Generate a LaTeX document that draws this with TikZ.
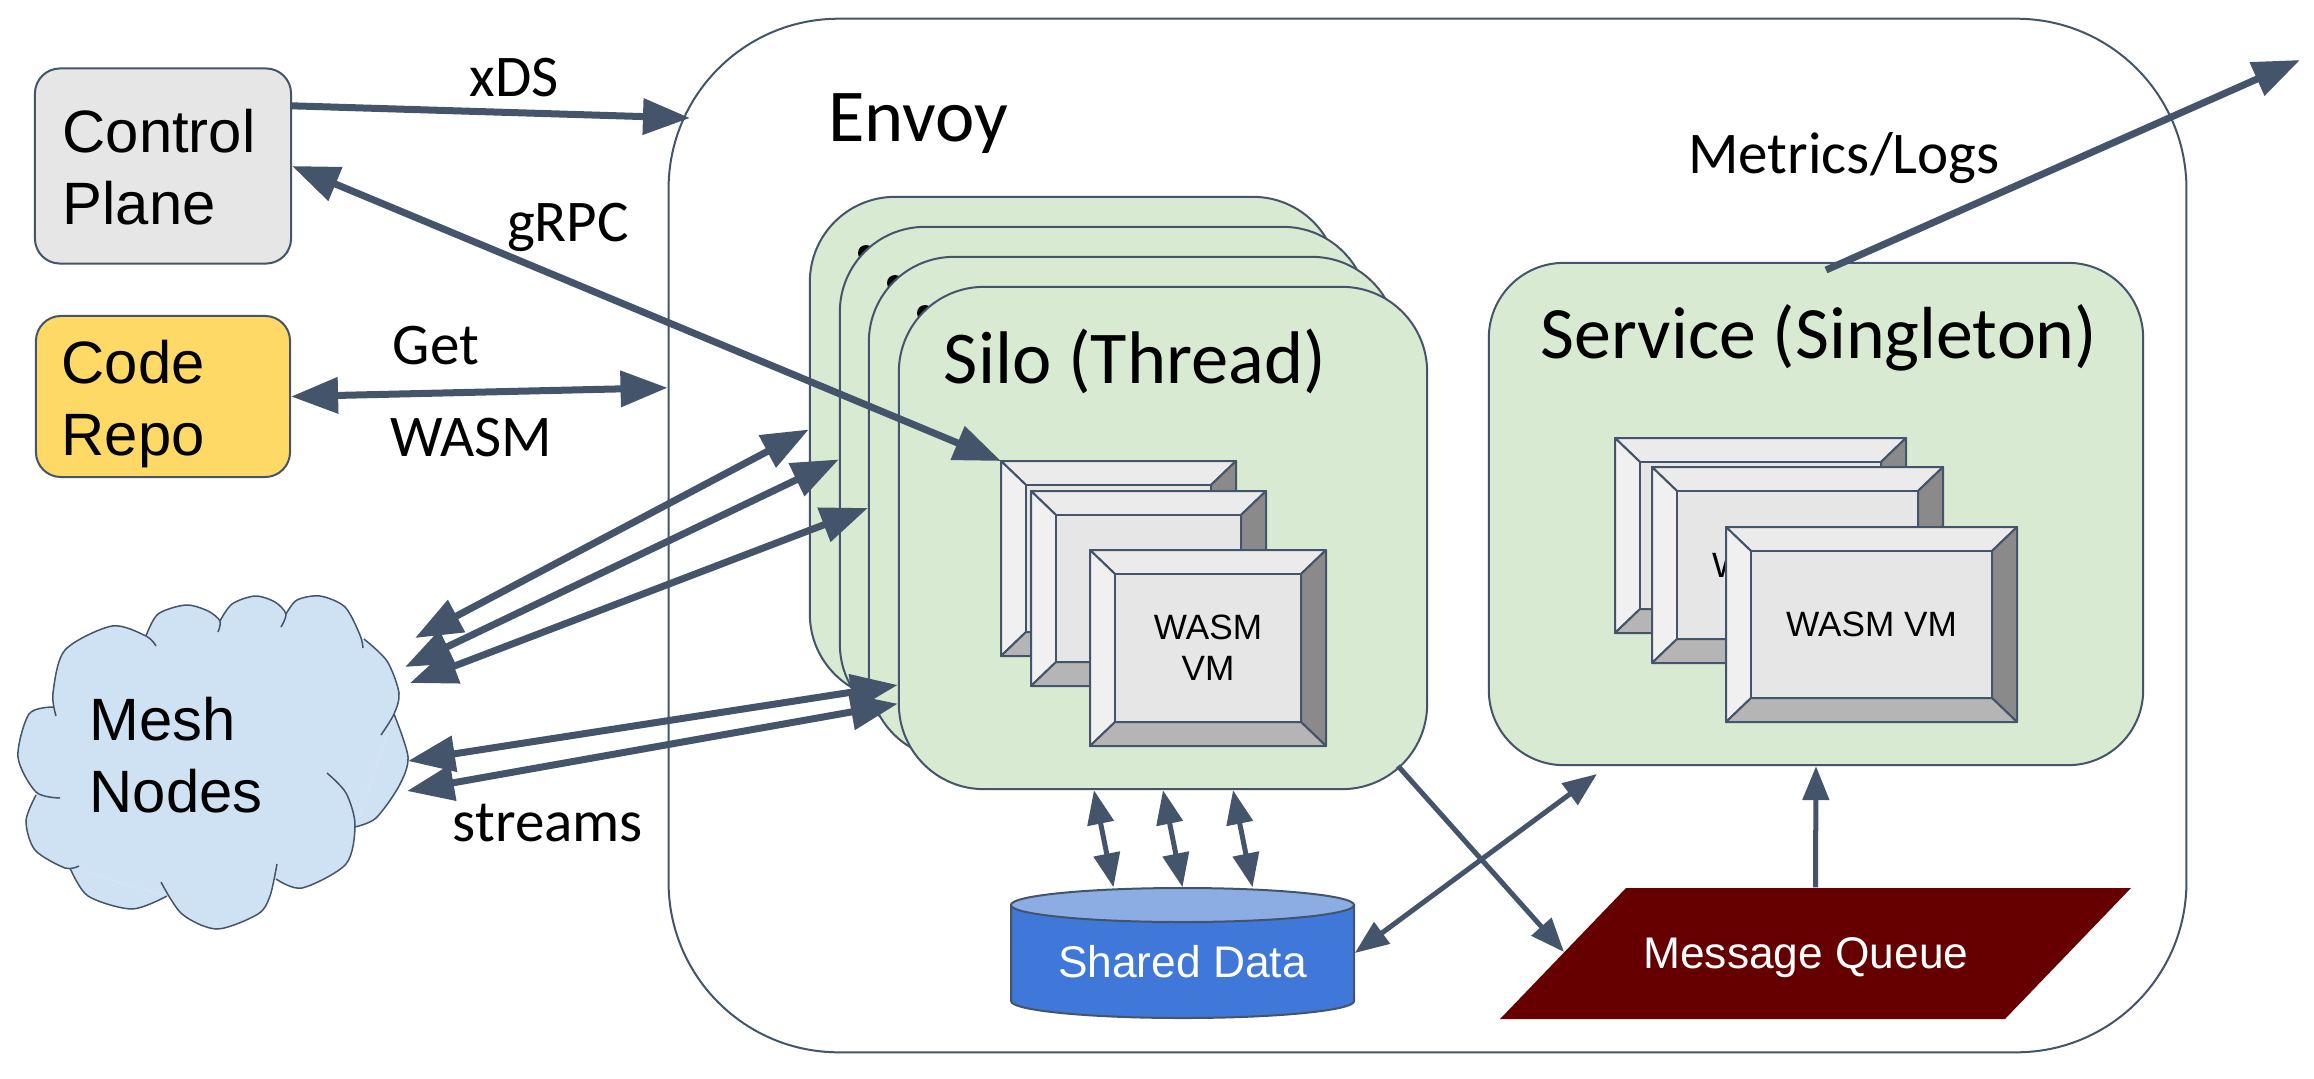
\documentclass[tikz,border=0pt]{standalone}
\usepackage{fontspec}
\usepackage{xcolor}
\setmainfont{Carlito}
\newfontfamily\arialfont{Liberation Sans}
\usetikzlibrary{arrows.meta}

\definecolor{slate}{HTML}{44546A}
\definecolor{silogreen}{HTML}{D9EAD3}
\definecolor{ctrlgray}{HTML}{E7E6E6}
\definecolor{repoyellow}{HTML}{FFD966}
\definecolor{meshblue}{HTML}{CFE2F3}
\definecolor{drumblue}{HTML}{3F78D8}
\definecolor{drumtop}{HTML}{8CADE4}
\definecolor{queuered}{HTML}{660000}

\newcommand{\wasmvm}[6]{
    \filldraw [bevel,fill=black!8] (#2,#3) -- (#4,#3) -- (#4-25,#3+24) -- (#2+25,#3+24) -- cycle;
    \filldraw [bevel,fill=black!6] (#2,#3) -- (#2+25,#3+24) -- (#2+25,#5-24) -- (#2,#5) -- cycle;
    \filldraw [bevel,fill=black!46] (#4,#3) -- (#4,#5) -- (#4-25,#5-24) -- (#4-25,#3+24) -- cycle;
    \filldraw [bevel,fill=black!29] (#2,#5) -- (#2+25,#5-24) -- (#4-25,#5-24) -- (#4,#5) -- cycle;
    \node (#1) [bevel,fill=ctrlgray,align=center,font=\arialfont\fontsize{10}{11.7}\selectfont,
        minimum width={(#4-#2-50)*0.01cm},minimum height={(#5-#3-48)*0.01cm}] at ({(#2+#4)/2},{(#3+#5)/2}) {#6};
    \coordinate (#1corner) at (#2,#3);
}
\newcommand{\cloudpuffs}{
    \puff{(56,716) (53,693) (65,650) (112,626) (146,636) (156,646)}
    \puff{(146,636) (158,614) (186,605) (208,611) (220,621) (218,632)}
    \puff{(220,621) (232,604) (255,596) (275,602) (286,614) (281,627)}
    \puff{(286,614) (297,600) (320,596) (345,607) (360,635) (363,648)}
    \puff{(364,639) (387,661) (399,693) (394,714) (381,735)}
    \puff{(394,714) (408,757) (399,786) (376,818) (355,827)}
    \puff{(327,773) (346,793) (355,825) (346,864) (302,888) (276,879)}
    \puff{(277,864) (270,896) (258,914) (217,929) (182,914) (161,882)}
    \puff{(167,896) (132,909) (88,896) (70,868)}
    \puff{(79,866) (65,868) (35,850) (26,821) (36,795)}
    \puff{(60,798) (36,792) (18,757) (29,714) (53,707)}
}

\begin{document}
\begin{tikzpicture}[x=0.01cm,y=-0.01cm]
    \tikzstyle{every node}+=[inner sep=0pt]
    \tikzstyle{panel}=[draw=slate,line width=0.02cm]
    \tikzstyle{bevel}=[draw=slate,line width=0.02cm,line join=round]
    \tikzstyle{silo}=[panel,fill=silogreen,rounded corners=0.85cm,minimum width=5.28cm,minimum height=5.02cm]
    \tikzstyle{bigarrow}=[slate,line width=0.07cm,{Triangle[length=0.47cm,width=0.35cm]}-{Triangle[length=0.47cm,width=0.35cm]}]
    \tikzstyle{bigarrowend}=[slate,line width=0.07cm,-{Triangle[length=0.47cm,width=0.35cm]}]
    \tikzstyle{thinarrow}=[slate,line width=0.05cm,{Triangle[length=0.34cm,width=0.26cm]}-{Triangle[length=0.34cm,width=0.26cm]}]
    \tikzstyle{thinarrowend}=[slate,line width=0.05cm,-{Triangle[length=0.34cm,width=0.26cm]}]
    \tikzstyle{sidelabel}=[font=\fontsize{16.8}{20}\selectfont]
    \tikzstyle{titlelabel}=[font=\fontsize{21.2}{26}\selectfont]
    \tikzstyle{boxlabel}=[font=\arialfont\fontsize{17}{20.4}\selectfont,align=left,anchor=west]
    \tikzstyle{whitelabel}=[text=white,font=\arialfont\fontsize{12.6}{15}\selectfont]

    \useasboundingbox (0,0) rectangle (2314,1078);

    \node (envoy) [panel,fill=white,rounded corners=1.7cm,minimum width=15.17cm,minimum height=10.33cm] at (1427.5,535.5) {};
    \node (envoytitle) [titlelabel] at (918,124) {Envoy};
    \node (ctrl) [panel,fill=ctrlgray,rounded corners=0.25cm,minimum width=2.56cm,minimum height=1.95cm] at (163,166) {};
    \node (repo) [panel,fill=repoyellow,rounded corners=0.25cm,minimum width=2.54cm,minimum height=1.61cm] at (163,396.5) {};
    \node (ctrltext) [boxlabel] at (62,167) {Control\\Plane};
    \node (repotext) [boxlabel] at (61,404) {Code\\Repo};

    \node (silo1) [silo] at (1074,448) {};
    \foreach \n/\x/\y/\bx/\by in {silo2/1104/478/866/253, silo3/1133/508/895/283, silo4/1163/538/925/313} {
        \fill [black] (\bx,\by) circle (0.08cm);
        \node (\n) [silo] at (\x,\y) {};
    }
    \node (silotitle) [titlelabel] at (1135,361) {Silo (Thread)};
    \wasmvm{vma}{1001}{461}{1236}{656}{}
    \wasmvm{vmb}{1031}{491}{1266}{686}{}
    \wasmvm{vmc}{1090}{550}{1326}{746}{WASM\\VM}

    \node (service) [panel,fill=silogreen,rounded corners=0.75cm,minimum width=6.54cm,minimum height=5.02cm] at (1816,514) {};
    \node (servicetitle) [font=\fontsize{21}{26}\selectfont] at (1819,338) {Service (Singleton)};
    \wasmvm{vmd}{1615}{438}{1906}{633}{}
    \wasmvm{vme}{1652}{467}{1943}{663}{WASM VM}
    \wasmvm{vmf}{1726}{527}{2017}{722}{WASM VM}

    \filldraw [panel,fill=drumblue] (1011,905) -- (1011,1001) arc (180:360:1.715cm and 0.17cm) -- (1354,905) -- cycle;
    \filldraw [panel,fill=drumtop] (1182.5,905) ellipse (1.715cm and 0.17cm);
    \node (shared) [minimum width=3.43cm,minimum height=1.3cm] at (1182.5,953) {};
    \node (sharedtext) [whitelabel] at (1182.5,962) {Shared Data};
    \fill [queuered] (1626,888) -- (2131,888) -- (2005,1019) -- (1500,1019) -- cycle;
    \node (queue) [minimum width=6.31cm,minimum height=1.31cm] at (1815.5,953.5) {};
    \node (queuetext) [whitelabel] at (1806,958) {Message Queue};

    \def\puff#1{\fill [meshblue] plot [smooth] coordinates {#1};}
    \fill [meshblue] (53,707) -- (146,636) -- (220,621) -- (286,614) -- (364,639) -- (394,714) -- (355,827) -- (276,879) -- (167,896) -- (70,868) -- (36,795) -- cycle;
    \cloudpuffs
    \def\puff#1{\draw [slate,line width=0.015cm] plot [smooth] coordinates {#1};}
    \cloudpuffs
    \node (mesh) [boxlabel] at (89,755) {Mesh\\Nodes};

    \coordinate (xdstip) at (690,118);
    \coordinate (silocorner) at (1398,766);
    \coordinate (queuetip) at (1564,952);
    \coordinate (servicetip) at (1597,774);
    \coordinate (metricsfrom) at (1826,270);
    \coordinate (metricstip) at (2300,60);
    \foreach \n/\x/\y in {mesha/415/638, meshb/405/667, meshc/410/683, meshd/408/761, meshe/407/791} {
        \coordinate (\n) at (\x,\y);
    }

    \draw [bigarrowend] (ctrl.25) -- (xdstip);
    \draw [bigarrow] (ctrl.east) -- (vmacorner);
    \draw [bigarrow] (repo.east) -- (envoy.169.35);
    \draw [bigarrow] (mesha) -- (silo1.176.5);
    \draw [bigarrow] (meshb) -- (silo2.176.5);
    \draw [bigarrow] (meshc) -- (silo3.west);
    \draw [bigarrow] (meshd) -- (silo4.209.5);
    \draw [bigarrow] (meshe) -- (silo4.212.5);
    \draw [bigarrowend] (metricsfrom) -- (metricstip);

    \draw [thinarrow] (silo4.south) -- (shared.north);
    \draw [thinarrow] ([xshift=-0.69cm]silo4.south) -- ([xshift=-0.69cm]shared.north);
    \draw [thinarrow] ([xshift=0.7cm]silo4.south) -- ([xshift=0.7cm]shared.north);
    \draw [thinarrowend] (silocorner) -- (queuetip);
    \draw [thinarrow] (shared.east) -- (servicetip);
    \draw [thinarrowend] (queue.north) -- (service.south);

    \node (xdslabel) [sidelabel] at (514,78) {xDS};
    \node (grpclabel) [sidelabel] at (568,227) {gRPC};
    \node (getlabel) [sidelabel] at (436,346) {Get};
    \node (wasmlabel) [sidelabel] at (471,438) {WASM};
    \node (streamslabel) [sidelabel] at (548,823) {streams};
    \node (metricslabel) [sidelabel] at (1844,158) {Metrics/Logs};
\end{tikzpicture}
\end{document}
